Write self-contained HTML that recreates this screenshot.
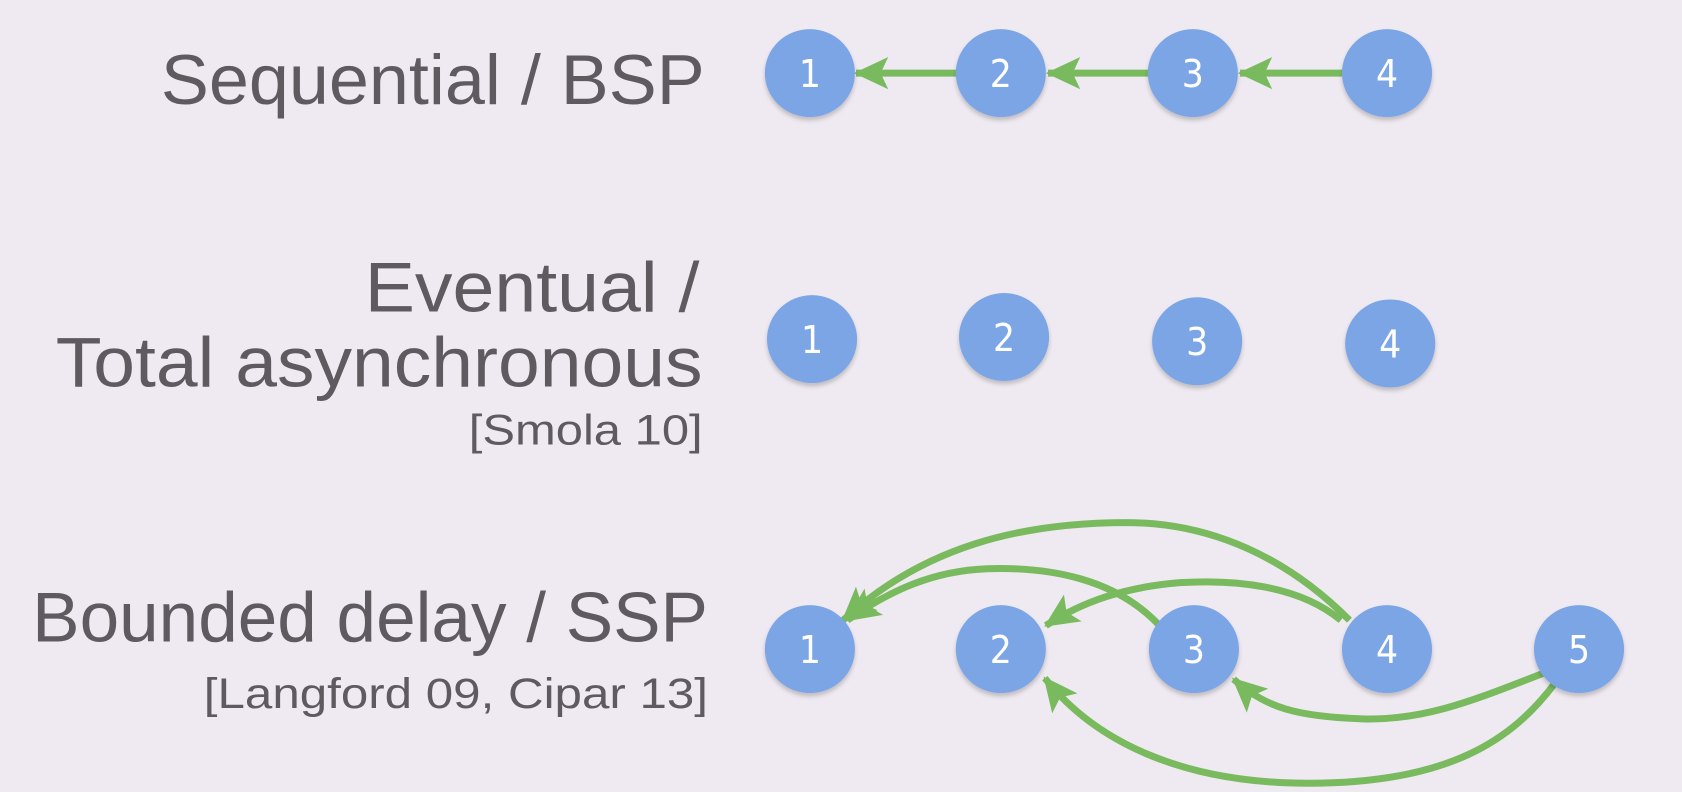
<!DOCTYPE html>
<html><head><meta charset="utf-8"><style>
html,body{margin:0;padding:0;background:#efeaf1;}
svg{display:block}
text{font-family:"Liberation Sans",sans-serif;fill:#5f5a60;}
.n{fill:#7ba5e6;}
.d{fill:#fff;font-size:36px;text-anchor:middle;font-family:"DejaVu Sans Condensed","Liberation Sans Narrow",sans-serif;}
.a{stroke:#7aba5f;stroke-width:6.5;fill:none;}
</style></head><body>
<svg width="1682" height="792" viewBox="0 0 1568 738" xmlns="http://www.w3.org/2000/svg">
<defs>
<marker id="h" markerUnits="userSpaceOnUse" markerWidth="40" markerHeight="40" refX="30" refY="15" orient="auto" viewBox="0 0 40 40">
<path d="M0,0 L32,15 L0,30 L7,15 Z" fill="#7aba5f"/>
</marker>
<filter id="s" x="-20%" y="-20%" width="140%" height="150%"><feDropShadow dx="0" dy="3" stdDeviation="2" flood-color="#000" flood-opacity="0.2"/></filter>
</defs>
<rect width="1568" height="738" fill="#efeaf1"/>

<text x="657" y="97" font-size="66" text-anchor="end" textLength="507" lengthAdjust="spacingAndGlyphs">Sequential / BSP</text>
<text x="652" y="290" font-size="66" text-anchor="end" textLength="312" lengthAdjust="spacingAndGlyphs">Eventual /</text>
<text x="655" y="360" font-size="66" text-anchor="end" textLength="603" lengthAdjust="spacingAndGlyphs">Total asynchronous</text>
<text x="655" y="414" font-size="40" text-anchor="end" textLength="218" lengthAdjust="spacingAndGlyphs">[Smola 10]</text>
<text x="660" y="598" font-size="66" text-anchor="end" textLength="630" lengthAdjust="spacingAndGlyphs">Bounded delay / SSP</text>
<text x="660" y="660" font-size="40" text-anchor="end" textLength="470" lengthAdjust="spacingAndGlyphs">[Langford 09, Cipar 13]</text>

<path class="a" d="M892,68 L798,68" marker-end="url(#h)"/>
<path class="a" d="M1071,68 L977,68" marker-end="url(#h)"/>
<path class="a" d="M1252,68 L1156,68" marker-end="url(#h)"/>

<path class="a" d="M1258,578 C1180,500 1100,487 1050,487 C950,487 860,510 786,578" marker-end="url(#h)"/>
<path class="a" d="M1080,582 C1040,540 980,528 920,530 C870,532 830,550 790,578" marker-end="url(#h)"/>
<path class="a" d="M1250,578 C1210,545 1150,540 1100,543 C1050,547 1010,560 975,583" marker-end="url(#h)"/>
<path class="a" d="M1440,627 C1380,650 1330,672 1270,670 C1210,668 1180,660 1150,633" marker-end="url(#h)"/>
<path class="a" d="M1450,636 C1410,690 1350,730 1220,730 C1100,730 1020,690 974,632" marker-end="url(#h)"/>

<g filter="url(#s)">
<ellipse class="n" cx="755" cy="68" rx="42" ry="41"/>
<ellipse class="n" cx="933" cy="68" rx="42" ry="41"/>
<ellipse class="n" cx="1112" cy="68" rx="42" ry="41"/>
<ellipse class="n" cx="1293" cy="68" rx="42" ry="41"/>
<ellipse class="n" cx="757" cy="316" rx="42" ry="41"/>
<ellipse class="n" cx="936" cy="314" rx="42" ry="41"/>
<ellipse class="n" cx="1116" cy="318" rx="42" ry="41"/>
<ellipse class="n" cx="1296" cy="320" rx="42" ry="41"/>
<ellipse class="n" cx="755" cy="605" rx="42" ry="41"/>
<ellipse class="n" cx="933" cy="605" rx="42" ry="41"/>
<ellipse class="n" cx="1113" cy="605" rx="42" ry="41"/>
<ellipse class="n" cx="1293" cy="605" rx="42" ry="41"/>
<ellipse class="n" cx="1472" cy="605" rx="42" ry="41"/>
</g>
<text class="d" x="755" y="81">1</text>
<text class="d" x="933" y="81">2</text>
<text class="d" x="1112" y="81">3</text>
<text class="d" x="1293" y="81">4</text>
<text class="d" x="757" y="329">1</text>
<text class="d" x="936" y="327">2</text>
<text class="d" x="1116" y="331">3</text>
<text class="d" x="1296" y="333">4</text>
<text class="d" x="755" y="618">1</text>
<text class="d" x="933" y="618">2</text>
<text class="d" x="1113" y="618">3</text>
<text class="d" x="1293" y="618">4</text>
<text class="d" x="1472" y="618">5</text>
</svg>
</body></html>
